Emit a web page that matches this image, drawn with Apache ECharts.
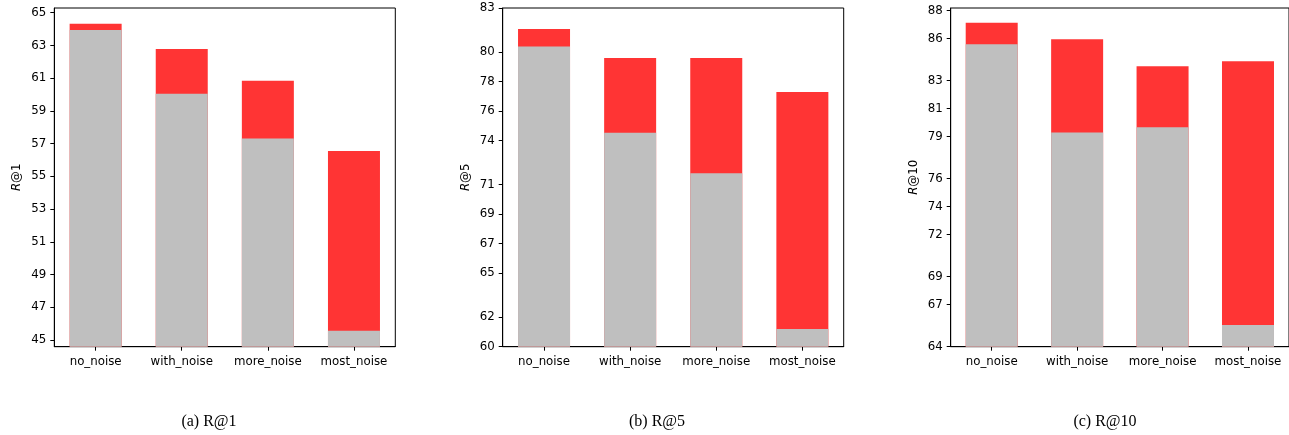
<!DOCTYPE html>
<html>
<head>
<meta charset="utf-8">
<script src="https://cdn.jsdelivr.net/npm/echarts@6/dist/echarts.min.js"></script>
<style>html,body{margin:0;padding:0;background:#fff;}#c{width:1289px;height:435px;}</style>
</head>
<body>
<div id="c"></div>
<script>
const categories = ['no_noise', 'with_noise', 'more_noise', 'most_noise'];

const r1Base = [63.95, 60.05, 57.31, 45.56];
const r1Top  = [64.33, 62.79, 60.85, 56.55];
const r1Ticks = [45, 47, 49, 51, 53, 55, 57, 59, 61, 63, 65];

const r5Base = [80.39, 74.53, 71.77, 61.20];
const r5Top  = [81.57, 79.60, 79.60, 77.29];
const r5Ticks = [60, 62, 65, 67, 69, 71, 74, 76, 78, 80, 83];

const r10Base = [85.60, 79.29, 79.67, 65.55];
const r10Top  = [87.14, 85.96, 84.03, 84.39];
const r10Ticks = [64, 67, 69, 72, 74, 76, 79, 81, 83, 86, 88];

const captions = ['(a) R@1', '(b) R@5', '(c) R@10'];
const yNames = ['1', '5', '10'];

const panels = [
  {base: r1Base, top: r1Top, ticks: r1Ticks, min: 44.59, max: 65.29, left: 54.3, cap: 204},
  {base: r5Base, top: r5Top, ticks: r5Ticks, min: 60, max: 83, left: 502.7, cap: 652},
  {base: r10Base, top: r10Top, ticks: r10Ticks, min: 64, max: 88.19, left: 950.7, cap: 1100}
];

const FONT = 'DejaVu Sans';
const grids = [], xAxes = [], yAxes = [], series = [], titles = [];
const catIdx = categories.map((c, i) => i);

panels.forEach((p, k) => {
  grids.push({left: p.left, top: 8, width: 341, height: 338.7, show: true,
    borderColor: '#000', borderWidth: 1, backgroundColor: 'transparent', containLabel: false});
  xAxes.push({type: 'value', gridIndex: k, min: -0.48, max: 3.48,
    axisLine: {show: true, onZero: false, lineStyle: {color: '#000', width: 1}},
    axisTick: {show: true, customValues: catIdx, length: 4, lineStyle: {color: '#000'}},
    axisLabel: {customValues: catIdx, formatter: v => categories[Math.round(v)] || '',
      color: '#000', fontFamily: FONT, fontSize: 11.8, margin: 9},
    splitLine: {show: false}});
  yAxes.push({type: 'value', gridIndex: k, min: p.min, max: p.max,
    name: '{i|R}@' + yNames[k], nameLocation: 'middle', nameGap: 31, nameRotate: 90,
    nameTextStyle: {color: '#000', fontFamily: FONT, fontSize: 11.8,
      rich: {i: {fontStyle: 'italic', fontFamily: FONT, fontSize: 11.8, color: '#000'}}},
    axisLine: {show: true, onZero: false, lineStyle: {color: '#000', width: 1}},
    axisTick: {show: true, customValues: p.ticks, length: 4, lineStyle: {color: '#000'}},
    axisLabel: {customValues: p.ticks, color: '#000', fontFamily: FONT, fontSize: 11.8, margin: 8},
    splitLine: {show: false}});
  // red: improved total (drawn first, underneath)
  series.push({type: 'bar', xAxisIndex: k, yAxisIndex: k, barWidth: 52, barGap: '-100%',
    itemStyle: {color: '#ff3434'}, silent: true,
    data: p.top.map((v, i) => [i, v])});
  // gray: baseline (drawn on top)
  series.push({type: 'bar', xAxisIndex: k, yAxisIndex: k, barWidth: 52, barGap: '-100%',
    itemStyle: {color: '#bfbfbf'}, silent: true,
    data: p.base.map((v, i) => [i, v])});
  titles.push({text: captions[k], left: p.cap, top: 409, textAlign: 'center',
    textStyle: {fontFamily: 'Liberation Serif', fontWeight: 'normal', fontSize: 16, color: '#000'}});
});

const chart = echarts.init(document.getElementById('c'), null, {renderer: 'canvas'});
chart.setOption({
  animation: false,
  title: titles,
  grid: grids,
  xAxis: xAxes,
  yAxis: yAxes,
  series: series
});
</script>
</body>
</html>
